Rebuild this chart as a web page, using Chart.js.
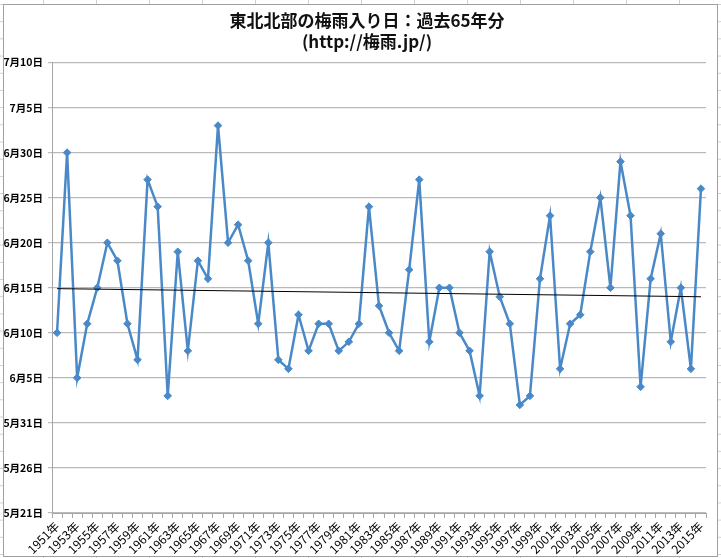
<!DOCTYPE html>
<html lang="ja">
<head>
<meta charset="utf-8">
<title>東北北部の梅雨入り日</title>
<script src="https://cdn.jsdelivr.net/npm/chart.js@4/dist/chart.umd.min.js"></script>
<style>
    html, body {
        margin: 0;
        padding: 0;
        width: 721px;
        height: 558px;
        overflow: hidden;
        background-color: #fff;
        /* spreadsheet cells peeking out around the chart */
        background-image: linear-gradient(to right, #d0d0d0 1px, transparent 1px),
                          linear-gradient(to bottom, #d0d0d0 1px, transparent 1px);
        background-size: 53px 100%, 100% 17.2px;
        background-position: 43px 0, 0 4px;
    }
    #frame {
        position: absolute;
        left: 3px;
        top: 4px;
        width: 715px;
        height: 553px;
        box-sizing: border-box;
        border: 1px solid #a0a0a0;
        background: #fff;
    }
    #rainyChart {
        display: block;
    }
</style>
</head>
<body>
<div id="frame">
    <canvas id="rainyChart" width="713" height="551"></canvas>
</div>

<script>
// Years on the category axis
const years = [
    '1951年', '1952年', '1953年', '1954年', '1955年', '1956年', '1957年', '1958年', '1959年', '1960年',
    '1961年', '1962年', '1963年', '1964年', '1965年', '1966年', '1967年', '1968年', '1969年', '1970年',
    '1971年', '1972年', '1973年', '1974年', '1975年', '1976年', '1977年', '1978年', '1979年', '1980年',
    '1981年', '1982年', '1983年', '1984年', '1985年', '1986年', '1987年', '1988年', '1989年', '1990年',
    '1991年', '1992年', '1993年', '1994年', '1995年', '1996年', '1997年', '1998年', '1999年', '2000年',
    '2001年', '2002年', '2003年', '2004年', '2005年', '2006年', '2007年', '2008年', '2009年', '2010年',
    '2011年', '2012年', '2013年', '2014年', '2015年'
];

// Onset date, as days after 5月31日 (10 = 6月10日, 33 = 7月3日)
const onsetDays = [
    10, 30, 5, 11, 15, 20, 18, 11, 7, 27,
    24, 3, 19, 8, 18, 16, 33, 20, 22, 18,
    11, 20, 7, 6, 12, 8, 11, 11, 8, 9,
    11, 24, 13, 10, 8, 17, 27, 9, 15, 15,
    10, 8, 3, 19, 14, 11, 2, 3, 16, 23,
    6, 11, 12, 19, 25, 15, 29, 23, 4, 16,
    21, 9, 15, 6, 26
];

// Trend line: first year, last year
const trendEnds = [14.9, 14.0];

// Value axis ticks
const yTickValues = [-10, -5, 0, 5, 10, 15, 20, 25, 30, 35, 40];
const yTickLabels = ['5月21日', '5月26日', '5月31日', '6月5日', '6月10日', '6月15日',
                     '6月20日', '6月25日', '6月30日', '7月5日', '7月10日'];

const chartTitle = ['東北北部の梅雨入り日：過去65年分', '(http://梅雨.jp/)'];

const jpFont = "'Noto Sans CJK JP', 'Noto Sans', sans-serif";

document.addEventListener('DOMContentLoaded', function() {
    initializeRainyChart();
});

// Build the trend dataset: only the two end points, the line spans the gap
function buildTrendData() {
    const data = years.map(() => null);
    data[0] = trendEnds[0];
    data[data.length - 1] = trendEnds[1];
    return data;
}

// The Excel title sits a little right of the canvas centre
const titleShift = {
    id: 'titleShift',
    afterLayout: function(chart) {
        if (chart.titleBlock) {
            chart.titleBlock.left += 12;
            chart.titleBlock.right += 12;
        }
    }
};

function initializeRainyChart() {
    const ctx = document.getElementById('rainyChart').getContext('2d');
    new Chart(ctx, {
        type: 'line',
        data: {
            labels: years,
            datasets: [
                {
                    label: '梅雨入り日',
                    data: onsetDays,
                    borderColor: '#4a89c8',
                    backgroundColor: '#4a89c8',
                    borderWidth: 2.5,
                    pointStyle: 'rectRot',
                    pointRadius: 3.8,
                    pointHoverRadius: 3.8,
                    pointBorderWidth: 1,
                    tension: 0,
                    order: 2
                },
                {
                    label: '線形近似',
                    data: buildTrendData(),
                    borderColor: '#000',
                    borderWidth: 1,
                    pointRadius: 0,
                    spanGaps: true,
                    order: 1
                }
            ]
        },
        plugins: [titleShift],
        options: {
            responsive: false,
            animation: false,
            layout: {
                padding: { left: 0, right: 11, top: 0, bottom: 0 }
            },
            plugins: {
                legend: { display: false },
                tooltip: { enabled: false },
                title: {
                    display: true,
                    text: chartTitle,
                    color: '#111',
                    font: { family: jpFont, size: 17, weight: 'bold', lineHeight: 1.25 },
                    padding: { top: 5, bottom: 10 }
                }
            },
            scales: {
                x: {
                    offset: true,
                    afterFit: function(scale) {
                        scale.height = 43;
                    },
                    border: { color: '#a6a6a6', width: 1 },
                    grid: {
                        offset: true,
                        drawOnChartArea: false,
                        drawTicks: true,
                        tickLength: 5,
                        color: '#a6a6a6'
                    },
                    ticks: {
                        autoSkip: false,
                        minRotation: 45,
                        maxRotation: 45,
                        padding: 1,
                        color: '#000',
                        font: { family: jpFont, size: 12 },
                        callback: function(value, index) {
                            return index % 2 === 0 ? years[index] : '';
                        }
                    }
                },
                y: {
                    min: -10,
                    max: 40,
                    afterFit: function(scale) {
                        scale.width = 48;
                    },
                    border: { color: '#a6a6a6', width: 1 },
                    grid: {
                        color: '#bababa',
                        lineWidth: 1.2,
                        tickLength: 4
                    },
                    ticks: {
                        stepSize: 5,
                        padding: 5,
                        color: '#000',
                        font: { family: jpFont, size: 10.5, weight: 'bold' },
                        callback: function(value) {
                            const i = yTickValues.indexOf(value);
                            return i >= 0 ? yTickLabels[i] : '';
                        }
                    }
                }
            }
        }
    });
}
</script>
</body>
</html>
